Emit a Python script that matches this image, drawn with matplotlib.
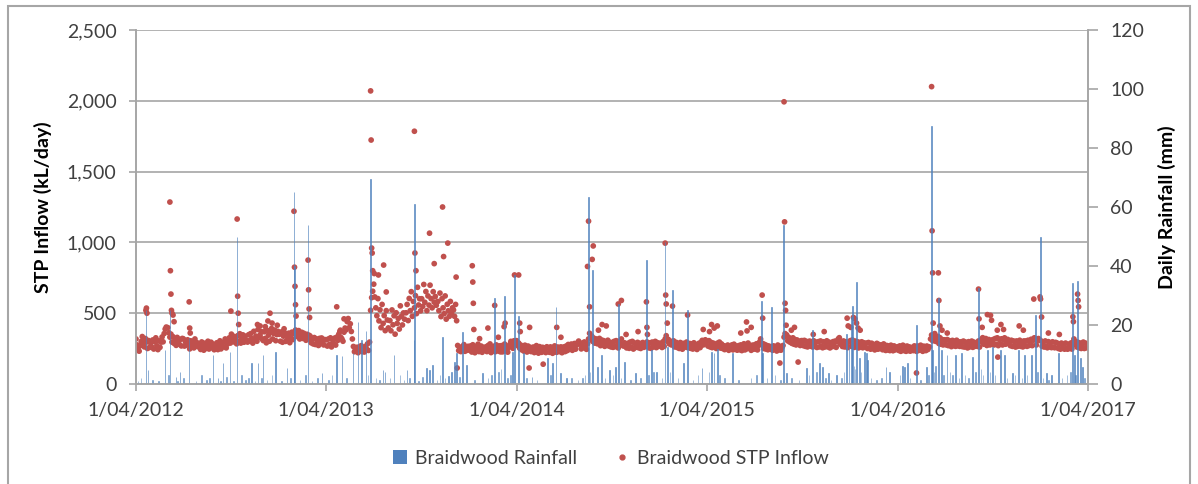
import numpy as np
import matplotlib

matplotlib.use("Agg")
import matplotlib.pyplot as plt
import matplotlib.dates as mdates
from matplotlib.lines import Line2D
from matplotlib.patches import Patch, Rectangle
from matplotlib.ticker import FuncFormatter

plt.rcParams["font.family"] = ["Lato", "DejaVu Sans"]

# STP inflow band (kL/day), read every second day of each month, Apr 2012 - Mar 2017
INFLOW_BAND = [
    "318 276 245 232 270 301 335 288 262 321 296 251 307 258 289",  # 2012-04
    "262 311 247 298 326 270 243 305 259 296 332 298 356 388 402",
    "398 362 331 352 296 334 287 318 273 329 302 281 315 269 322",
    "318 268 297 275 312 281 248 305 266 289 255 318 274 292 263",
    "283 244 297 262 239 288 251 276 302 247 271 295 256 281 242",
    "258 291 243 279 305 248 286 262 297 318 255 281 308 326 289",
    "352 318 337 296 328 284 341 302 355 289 322 347 295 338 312",
    "296 348 307 356 321 289 372 315 338 302 385 329 346 371 318",
    "307 369 322 291 378 345 302 366 392 318 357 381 306 349 372",
    "351 302 368 295 338 362 301 347 316 359 292 331 366 314 358",  # 2013-01
    "381 336 352 377 318 349 365 322 358 337 309 351 318 344 326",
    "338 291 317 283 328 279 319 301 272 322 286 325 297 276 314",
    "312 268 318 279 326 262 311 287 324 275 331 308 352 371 329",
    "318 302 366 395 383 441 462 398 425 371 318 265 228 246 259",
    "221 262 236 271 229 248 226 265 248 283 237 296 520 610 655",
    "705 615 538 482 603 446 524 398 562 428 483 377 518 452 396",
    "448 376 523 418 482 352 503 428 463 388 552 478 417 502 458",
    "503 562 448 604 518 652 478 583 538 624 497 683 558 602 517",
    "602 548 703 577 653 518 622 557 698 603 538 652 578 618 556",
    "583 518 642 476 603 538 497 622 458 563 517 478 583 497 538",
    "523 478 562 447 272 236 251 229 263 244 278 231 259 238 266",
    "238 269 226 277 244 221 262 238 281 229 255 268 224 259 241",  # 2014-01
    "262 229 271 236 283 222 258 241 267 228 276 244 233 269 227",
    "236 271 227 259 282 234 266 225 258 279 301 268 252 305 283",
    "306 271 289 252 275 241 263 232 274 247 226 268 236 259 229",
    "233 261 222 252 271 229 218 264 238 224 259 231 254 222 263",
    "254 224 262 231 217 252 269 228 224 261 238 229 262 221 253",
    "262 229 268 236 279 244 263 282 238 271 286 246 275 291 303",
    "281 248 289 256 297 262 245 284 318 358 327 339 301 324 289",
    "318 284 301 322 271 311 279 306 266 298 274 309 268 294 262",
    "293 259 301 264 306 271 255 298 284 318 276 268 291 279 255",
    "288 252 296 261 301 247 289 258 272 294 256 287 251 277 293",
    "259 278 266 297 281 255 291 252 296 262 284 301 257 292 266",
    "288 272 258 299 266 318 341 302 315 283 302 276 291 305 262",  # 2015-01
    "294 258 284 251 293 262 246 287 259 271 296 257 274 286 253",
    "252 283 247 291 256 279 244 271 288 257 295 308 276 293 312",
    "301 268 306 262 294 257 289 266 279 251 288 259 296 254 283",
    "251 271 243 266 249 275 238 262 247 276 241 281 249 268 239",
    "271 242 276 236 268 284 241 273 249 289 255 267 238 274 246",
    "276 247 284 241 272 296 318 279 286 251 279 247 272 242 268",
    "247 264 238 269 245 258 233 275 241 266 239 258 272 331 356",
    "347 305 329 296 318 287 326 281 314 276 311 284 301 272 306",
    "306 271 308 266 301 262 294 303 267 298 261 305 269 296 258",
    "299 262 304 267 256 298 261 293 305 262 296 255 291 264 299",
    "266 303 259 298 318 327 281 296 265 304 262 298 266 257 296",
    "306 266 311 274 259 303 266 298 255 293 262 298 256 291 262",  # 2016-01
    "289 251 293 256 246 288 251 279 241 272 287 246 279 251 268",
    "276 242 283 246 237 272 241 268 236 274 243 235 269 241 259",
    "263 237 269 231 262 274 236 264 231 268 237 262 232 258 243",
    "236 269 241 231 268 237 262 274 238 231 267 242 236 268 244",
    "262 318 346 305 328 356 301 319 336 286 327 281 314 276 312",
    "309 276 314 271 306 279 264 308 272 301 266 309 271 298 266",
    "298 264 303 261 296 267 255 299 262 289 303 259 296 266 284",
    "266 304 261 298 316 327 281 301 321 272 306 314 276 296 309",
    "314 276 321 281 326 271 314 282 319 276 313 326 281 299 315",
    "299 271 309 266 304 272 261 304 266 296 309 266 294 262 304",
    "271 304 266 309 272 304 316 271 309 326 314 276 308 321 313",
    "304 266 296 261 304 266 256 299 262 291 257 298 261 256 294",  # 2017-01
    "289 251 281 246 289 252 281 246 289 251 246 281 252 289 247",
    "281 296 318 279 298 261 294 256 289 251 281 296 251 289 256",
]

# individual inflow readings away from the band (storm responses, outliers)
SPIKE_DATES = [
    "2012-04-20", "2012-04-21", "2012-04-22", "2012-06-05", "2012-06-06", "2012-06-07",
    "2012-06-08", "2012-06-09", "2012-06-11", "2012-06-13", "2012-07-12", "2012-07-13",
    "2012-07-14", "2012-09-30", "2012-10-12", "2012-10-13", "2012-10-14", "2012-10-15",
    "2012-11-20", "2012-12-10", "2012-12-14", "2012-12-18", "2013-01-29", "2013-01-30",
    "2013-01-31", "2013-02-01", "2013-02-02", "2013-02-25", "2013-02-26", "2013-02-27",
    "2013-02-28", "2013-04-21", "2013-06-25", "2013-06-26", "2013-06-27", "2013-06-28",
    "2013-06-29", "2013-07-02", "2013-07-10", "2013-07-20", "2013-07-25", "2013-09-17",
    "2013-09-18", "2013-09-20", "2013-10-16", "2013-10-25", "2013-11-10", "2013-11-12",
    "2013-11-20", "2013-12-06", "2013-12-08", "2014-01-06", "2014-01-07", "2014-01-08",
    "2014-01-09", "2014-02-05", "2014-02-18", "2014-03-08", "2014-03-10", "2014-03-28",
    "2014-04-05", "2014-04-07", "2014-04-08", "2014-04-25", "2014-04-26", "2014-05-22",
    "2014-06-17", "2014-08-15", "2014-08-17", "2014-08-19", "2014-08-24", "2014-08-26",
    "2014-09-20", "2014-10-13", "2014-10-19", "2014-12-06", "2014-12-07", "2014-12-08",
    "2015-01-11", "2015-01-12", "2015-01-13", "2015-01-15", "2015-01-25", "2015-02-23",
    "2015-04-06", "2015-04-15", "2015-04-21", "2015-06-16", "2015-06-17", "2015-07-16",
    "2015-07-17", "2015-08-19", "2015-08-27", "2015-08-28", "2015-08-29", "2015-08-30",
    "2015-08-31", "2015-09-23", "2015-12-26", "2016-01-02", "2016-01-10", "2016-01-13",
    "2016-01-16", "2016-05-07", "2016-06-05", "2016-06-06", "2016-06-07", "2016-06-08",
    "2016-06-18", "2016-06-19", "2016-06-21", "2016-09-03", "2016-09-04", "2016-09-20",
    "2016-09-26", "2016-10-09", "2016-10-10", "2016-10-21", "2016-11-20", "2016-12-18",
    "2016-12-30", "2016-12-31", "2017-01-02", "2017-03-03", "2017-03-04", "2017-03-12",
    "2017-03-13", "2017-03-14",
    "2012-11-25", "2012-12-05", "2012-12-28", "2013-01-10", "2013-04-28", "2013-05-05",
    "2014-01-20", "2014-02-25", "2014-06-25", "2014-09-05", "2014-09-12", "2014-10-28",
    "2014-11-20", "2015-03-25", "2015-04-10", "2015-06-05", "2015-06-25", "2015-09-10",
    "2015-09-16", "2015-10-22", "2015-11-12", "2015-12-28", "2016-01-07", "2016-01-20",
    "2016-06-25", "2016-07-05", "2016-09-10", "2016-09-28", "2016-10-16", "2016-11-28",
    "2017-01-15", "2017-02-05",
]
SPIKE_VALUES = [
    520, 536, 500, 1285, 800, 635,
    520, 500, 487, 440, 580, 395,
    360, 515, 1165, 620, 500, 420,
    420, 445, 500, 430, 1220, 825,
    690, 560, 480, 875, 665, 530,
    470, 545, 2070, 1723, 960, 925,
    800, 780, 770, 840, 650, 1785,
    925, 800, 1065, 850, 1250, 900,
    995, 755, 113, 835, 720, 570,
    385, 395, 555, 405, 430, 770,
    770, 430, 370, 113, 400, 140,
    400, 830, 1150, 545, 880, 975,
    410, 565, 590, 580, 400, 350,
    995, 628, 565, 430, 550, 487,
    370, 395, 410, 438, 375, 628,
    465, 148, 1993, 1145, 570, 520,
    415, 155, 465, 400, 460, 430,
    395, 78, 2100, 1082, 785, 430,
    785, 590, 410, 670, 460, 490,
    485, 380, 190, 385, 410, 600,
    615, 600, 473, 475, 440, 635,
    590, 545,
    410, 405, 415, 390, 380, 460,
    320, 330, 330, 380, 420, 350,
    370, 385, 420, 360, 400, 380,
    400, 350, 370, 410, 470, 380,
    380, 360, 400, 450, 420, 380,
    360, 350,
]

# daily rainfall (mm), rain days only
RAIN_DATES = [
    "2012-04-20", "2012-04-24", "2012-05-27", "2012-06-05", "2012-06-17", "2012-06-24",
    "2012-07-12", "2012-08-27", "2012-09-05", "2012-09-15", "2012-09-28", "2012-10-12",
    "2012-11-09", "2012-11-21", "2012-12-01", "2012-12-25", "2013-01-16", "2013-01-29",
    "2013-01-30", "2013-02-25", "2013-03-24", "2013-04-21", "2013-05-01", "2013-05-22",
    "2013-06-01", "2013-06-08", "2013-06-16", "2013-06-25", "2013-07-19", "2013-07-23",
    "2013-08-09", "2013-09-03", "2013-09-16", "2013-09-17", "2013-10-10", "2013-10-16",
    "2013-10-22", "2013-11-10", "2013-11-21", "2013-11-27", "2013-12-03", "2013-12-07",
    "2013-12-18", "2013-12-26", "2014-01-26", "2014-02-18", "2014-03-09", "2014-03-24",
    "2014-03-28", "2014-04-05", "2014-04-14", "2014-05-01", "2014-05-30", "2014-06-09",
    "2014-06-16", "2014-06-24", "2014-07-06", "2014-08-17", "2014-08-25", "2014-09-03",
    "2014-09-11", "2014-09-26", "2014-10-08", "2014-10-13", "2014-10-25", "2014-11-15",
    "2014-12-06", "2014-12-16", "2014-12-25", "2015-01-11", "2015-01-15", "2015-01-25",
    "2015-02-15", "2015-02-23", "2015-03-23", "2015-04-10", "2015-04-15", "2015-04-21",
    "2015-05-20", "2015-07-15", "2015-07-17", "2015-08-03", "2015-08-26", "2015-09-01",
    "2015-10-09", "2015-10-21", "2015-11-03", "2015-11-09", "2015-11-20", "2015-12-06",
    "2015-12-25", "2015-12-30", "2016-01-03", "2016-01-05", "2016-01-13", "2016-01-19",
    "2016-01-28", "2016-02-01", "2016-02-03", "2016-03-10", "2016-03-16", "2016-04-10",
    "2016-04-14", "2016-04-20", "2016-05-07", "2016-05-26", "2016-06-05", "2016-06-07",
    "2016-06-18", "2016-06-24", "2016-07-05", "2016-07-21", "2016-08-01", "2016-08-22",
    "2016-09-03", "2016-09-20", "2016-09-30", "2016-10-15", "2016-10-23", "2016-11-07",
    "2016-11-19", "2016-11-30", "2016-12-14", "2016-12-21", "2016-12-31", "2017-01-11",
    "2017-01-21", "2017-02-03", "2017-03-02", "2017-03-06", "2017-03-12", "2017-03-18",
    "2017-03-21",
]
RAIN_MM = [
    25, 4.7, 11.5, 25, 2.4, 4,
    15.6, 9.8, 2, 7, 11, 50,
    7, 7, 10, 11, 5.4, 65,
    40, 54, 3.6, 9.8, 9.5, 10.5,
    21, 15, 18, 69.5, 4.7, 4,
    9.8, 4.7, 15, 61, 5.4, 4.7,
    6.4, 16, 2.7, 4, 7.5, 10.5,
    17.6, 6.4, 3.7, 29, 30, 11,
    37, 23, 10.5, 2.4, 8.8, 7,
    26, 3.7, 2, 63.5, 38.6, 5.8,
    9.8, 4.7, 5.8, 27, 7.5, 3.7,
    42, 11.5, 4, 48, 12.6, 32,
    7, 25, 5.4, 11, 10.5, 12,
    10.5, 28, 10.5, 26, 54, 3.7,
    5.4, 18.3, 7, 5.8, 3.7, 3,
    17, 12.6, 22.7, 26.5, 34.6, 8.8,
    11, 10.5, 8, 5.8, 4, 6.2,
    5.8, 7, 20, 5.8, 87.5, 11.5,
    29, 11.5, 9.8, 9.8, 10.5, 9.2,
    32.6, 11.5, 12.6, 11.5, 9.8, 3.7,
    11.5, 9.8, 9.8, 23.4, 50, 3.7,
    3, 10.5, 34.2, 10, 35, 8.8,
    5.8,
]

# light rain days
DRIZZLE_DATES = [
    "2012-04-05", "2012-04-11", "2012-05-03", "2012-05-14", "2012-06-02", "2012-06-20",
    "2012-07-01", "2012-07-25", "2012-08-05", "2012-08-14", "2012-08-20", "2012-09-10",
    "2012-09-22", "2012-10-05", "2012-10-20", "2012-10-28", "2012-11-03", "2012-11-15",
    "2012-11-28", "2012-12-08", "2012-12-18", "2013-01-05", "2013-01-22", "2013-02-10",
    "2013-02-20", "2013-03-05", "2013-03-15", "2013-04-05", "2013-04-12", "2013-05-10",
    "2013-06-20", "2013-07-05", "2013-07-12", "2013-08-01", "2013-08-20", "2013-08-28",
    "2013-09-08", "2013-09-25", "2013-10-03", "2013-10-30", "2013-11-05", "2013-11-15",
    "2013-12-12", "2014-01-10", "2014-02-05", "2014-02-12", "2014-02-25", "2014-03-02",
    "2014-03-15", "2014-03-20", "2014-04-20", "2014-05-10", "2014-06-05", "2014-07-15",
    "2014-07-28", "2014-08-05", "2014-08-10", "2014-08-20", "2014-09-18", "2014-10-03",
    "2014-10-18", "2014-11-05", "2014-11-25", "2014-12-10", "2014-12-20", "2015-01-05",
    "2015-01-20", "2015-02-05", "2015-03-05", "2015-03-15", "2015-04-05", "2015-04-25",
    "2015-05-05", "2015-06-01", "2015-06-25", "2015-07-05", "2015-07-25", "2015-08-10",
    "2015-08-20", "2015-09-10", "2015-09-25", "2015-10-14", "2015-10-28", "2015-11-15",
    "2015-11-25", "2015-12-15", "2015-12-20", "2016-01-08", "2016-01-10", "2016-01-22",
    "2016-02-10", "2016-02-20", "2016-03-01", "2016-04-05", "2016-04-25", "2016-05-15",
    "2016-05-30", "2016-06-10", "2016-06-12", "2016-06-28", "2016-07-10", "2016-07-15",
    "2016-07-28", "2016-08-08", "2016-08-15", "2016-08-28", "2016-09-08", "2016-09-12",
    "2016-09-25", "2016-10-05", "2016-10-28", "2016-11-12", "2016-11-25", "2016-12-05",
    "2016-12-25", "2017-01-05", "2017-01-15", "2017-02-10", "2017-02-20", "2017-02-26",
    "2017-03-08", "2017-03-25",
]
DRIZZLE_MM = [
    1, 2, 1.5, 1, 3, 1,
    2, 1, 3, 1.5, 2, 1,
    2.5, 1, 3, 1.5, 2, 1,
    2, 1.5, 3, 1, 2, 1.5,
    3, 1, 2, 1.5, 3, 2,
    3, 2, 1.5, 2, 3, 1.5,
    2, 1, 2.5, 1.5, 3, 2,
    2.5, 1.5, 2, 3, 4, 5,
    2, 3, 2, 1.5, 3, 2,
    1.5, 2, 3, 4, 2, 3,
    2, 1.5, 2, 3, 4, 2,
    4, 2, 1.5, 3, 4, 3,
    2, 1.5, 2, 3, 2, 3,
    1.5, 2, 1.5, 3, 4, 2,
    1.5, 2, 4, 6, 5, 4,
    2, 1.5, 2, 3, 2, 1.5,
    3, 4, 6, 3, 4, 3,
    2, 3, 2, 4, 5, 3,
    4, 3, 2, 3, 2, 3,
    4, 2, 1.5, 2, 3, 4,
    3, 2,
]

XTICK_DATES = ["2012-04-01", "2013-04-01", "2014-04-01", "2015-04-01", "2016-04-01", "2017-04-01"]
XTICK_LABELS = ["1/04/2012", "1/04/2013", "1/04/2014", "1/04/2015", "1/04/2016", "1/04/2017"]

BLUE = "#4F81BD"
RED = "#C0504D"
GRID = "#A6A6A6"
TEXT = "#404040"


def to_num(dates):
    return mdates.date2num(np.array(dates, dtype="datetime64[D]"))


def band_points():
    months = np.arange(np.datetime64("2012-04"), np.datetime64("2017-04"))
    dates, values = [], []
    for month, row in zip(months, INFLOW_BAND):
        start = np.datetime64(month, "D")
        for i, v in enumerate(row.split()):
            dates.append(start + np.timedelta64(2 * i, "D"))
            values.append(float(v))
    return to_num(dates), np.array(values)


fig = plt.figure(figsize=(11.98, 4.84), dpi=100)
ax = fig.add_axes([136 / 1198, 1 - 384 / 484, (1088 - 136) / 1198, (384 - 30) / 484])
ax2 = ax.twinx()

bx, by = band_points()
ax.scatter(bx, by, s=17, color=RED, edgecolors="none", zorder=3)
ax.scatter(to_num(SPIKE_DATES), SPIKE_VALUES, s=17, color=RED, edgecolors="none", zorder=3)

ax2.bar(to_num(DRIZZLE_DATES), DRIZZLE_MM, width=1.0, color=BLUE, edgecolor=BLUE,
        linewidth=0.5, alpha=0.7)
ax2.bar(to_num(RAIN_DATES), RAIN_MM, width=1.0, color=BLUE, edgecolor=BLUE,
        linewidth=0.6, alpha=0.75)

xmin, xmax = to_num(["2012-04-01", "2017-04-01"])
ax.set_xlim(xmin, xmax)
ax.set_ylim(0, 2500)
ax2.set_ylim(0, 120)
ax.set_yticks(np.arange(0, 2501, 500))
ax.yaxis.set_major_formatter(FuncFormatter(lambda v, _: f"{v:,.0f}"))
ax2.set_yticks(np.arange(0, 121, 20))
ax.set_xticks(to_num(XTICK_DATES), XTICK_LABELS)

ax.grid(axis="y", color=GRID, linewidth=1.2)
ax.set_axisbelow(True)
for a in (ax, ax2):
    a.spines["top"].set_visible(False)
    for side in ("left", "right", "bottom"):
        a.spines[side].set_color(GRID)
        a.spines[side].set_linewidth(1.2)
ax.tick_params(axis="both", colors=GRID, labelcolor=TEXT, labelsize=14, length=5, width=1.2)
ax.tick_params(axis="y", pad=9)
ax.tick_params(axis="x", pad=8)
ax2.tick_params(axis="y", colors=GRID, labelcolor=TEXT, labelsize=14, length=7, width=1.2,
                pad=9)

ax.set_ylabel("STP Inflow (kL/day)", fontsize=14, fontweight="bold", labelpad=11)
ax2.set_ylabel("Daily Rainfall (mm)", fontsize=14, fontweight="bold", labelpad=10)

handles = [
    Patch(facecolor=BLUE, edgecolor="none"),
    Line2D([], [], marker="o", linestyle="none", color=RED, markersize=3.5),
]
fig.legend(handles, ["Braidwood Rainfall", "Braidwood STP Inflow"], loc="center",
           bbox_to_anchor=(0.51, 1 - 458 / 484), ncol=2, frameon=False, fontsize=14,
           handlelength=0.7, handleheight=0.7, handletextpad=0.4, columnspacing=2.0,
           labelcolor=TEXT)

fig.patches.append(Rectangle((8 / 1198, -0.05), (1190 - 8) / 1198, 1.05 - 6 / 484,
                             transform=fig.transFigure, fill=False, edgecolor=GRID,
                             linewidth=1.5))

fig.savefig("out.png", dpi=100)
